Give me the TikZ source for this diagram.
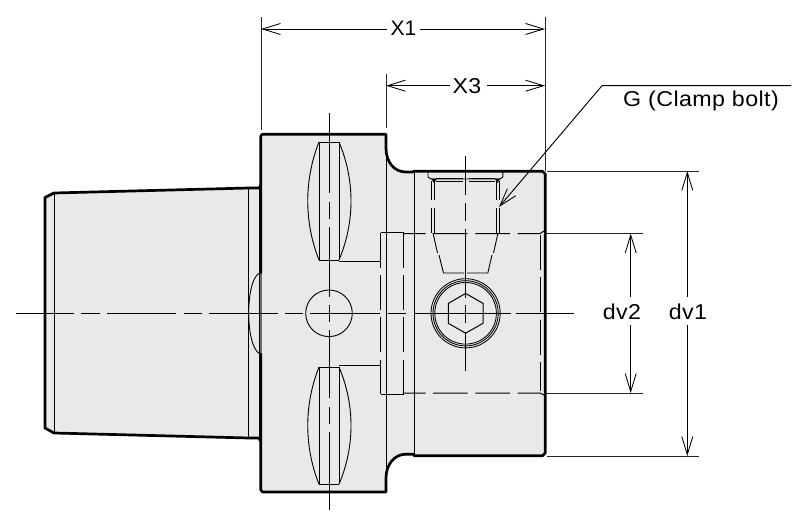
\documentclass[tikz,border=0pt]{standalone}
\usepackage{fontspec}
\setmainfont{Liberation Sans}
\usetikzlibrary{arrows.meta}
\definecolor{bodyfill}{RGB}{233,233,233}
\definecolor{greyedge}{RGB}{110,110,110}
\tikzset{
  outline/.style={line width=2.7pt,line join=round,line cap=round},
  thin line/.style={line width=1.0pt},
  fine line/.style={line width=0.9pt},
  hid35/.style={thin line,dash pattern=on 35pt off 7.3pt},
  halfend/.style={line width=0.95pt,-{Straight Barb[length=18pt,width=11pt,line width=0.85pt]}},
  extline/.style={line width=1.0pt,draw=black!85},
  lbl/.style={inner sep=0pt,font=\fontsize{21.5}{25}\selectfont\addfontfeature{FakeStretch=1.08,LetterSpace=2}},
  lblnarrow/.style={inner sep=0pt,font=\fontsize{21}{25}\selectfont},
}
\begin{document}
\begin{tikzpicture}[x=1pt,y=-1pt]
\useasboundingbox (0,0) rectangle (801,522);
% silhouette
\fill[bodyfill] (45,197.5) -- (54,193) -- (249,188) -- (261,188) -- (261,136) -- (263,134.3) -- (386,134.3) -- (386,148)
  .. controls (386,162) and (394,172) .. (406,172) -- (413,171.5) -- (542,171.5) -- (545,174) -- (545,453) -- (542,456) -- (414,456) -- (414,454.5) -- (406,454.5)
  .. controls (394,454.5) and (386,465) .. (386,478) -- (386,492) -- (263,492) -- (261,490) -- (261,438) -- (249,438) -- (54,433) -- (45,428) -- cycle;
% thin body lines
\draw[thin line] (54,193) -- (54,433);
\draw[thin line] (248.7,188) -- (248.7,438);
\draw[thin line] (386,134) -- (386,492);
\draw[thin line] (414.7,172) -- (414.7,456);
\draw[fine line] (260,272.7) .. controls (252,276) and (248.7,296) .. (248.7,313) .. controls (248.7,330) and (252,350) .. (260,354);
\draw[line width=2.6pt,draw=greyedge] (260.8,188) -- (260.8,438);
\draw[line width=0.9pt] (259.6,188) -- (259.6,438);
% outline
\draw[outline] (45,197.5) -- (54,193) -- (249,188) -- (259,188) -- (260.5,186);
\draw[outline] (45,197.5) -- (45,428) -- (54,433) -- (249,438) -- (259,438) -- (260.5,441);
\draw[outline] (260.8,273) -- (260.8,136) -- (262.5,134.3) -- (386,134.3) -- (386,148)
  .. controls (386,162) and (394,172) .. (406,172) -- (413,172);
\draw[outline] (413.5,171.2) -- (542.5,171.2) -- (545.2,174) -- (545.2,453) -- (542.5,455.8) -- (414,455.8);
\draw[outline] (414,454.2) -- (406,454.2) .. controls (394,454.2) and (386,465) .. (386,478) -- (386,492) -- (262.5,492) -- (260.8,490) -- (260.8,354);
% lens-shaped flats
\foreach \t/\b in {142/260,367/484.3}{
  \draw[fine line] (319,\t) -- (339,\t) (319,\b) -- (339,\b);
  \draw[thin line] (319,\t) -- (319,\b) (339,\t) -- (339,\b);
  \draw[fine line] (319,\t) .. controls (304,{\t+38}) and (304,{\b-38}) .. (319,\b);
  \draw[fine line] (339,\t) .. controls (355,{\t+38}) and (355,{\b-38}) .. (339,\b);
}
% cross bore
\draw[fine line] (329,313.3) circle[radius=23.3];
% key slot
\draw[thin line] (339,261) -- (380.5,261);
\draw[thin line] (339,365) -- (380.5,365);
\draw[thin line] (380.5,232.7) -- (403.5,232.7);
\draw[thin line] (380.5,394) -- (403.5,394);
\draw[hid35] (380.5,232.7) -- (380.5,394);
\draw[hid35] (403.5,232.7) -- (403.5,394);
\draw[hid35] (540,235) -- (540,391);
\draw[thin line,dash pattern=on 34.5pt off 7.7pt,dash phase=12.5pt] (403.5,233.5) -- (540,233.5) -- (544,231);
\draw[thin line,dash pattern=on 34.5pt off 7.7pt,dash phase=12.5pt] (403.5,393) -- (540,393) -- (544,395);
% clamp bolt hole
\draw[fine line] (428,172) -- (428,177) -- (431,179) -- (500,179) -- (502.8,177) -- (502.8,172);
\draw[thin line] (436,181) -- (463,181) (469,181) -- (495,181);
\draw[thin line] (436,178.6) -- (463,178.6) (469,178.6) -- (495,178.6);
\fill (431,178.5) -- (437,178.5) -- (434,183) -- cycle;
\fill (494.5,178.5) -- (500.5,178.5) -- (497.5,183) -- cycle;
\foreach \x in {431.7,434.3,496.7,499.3}{
  \draw[fine line] (\x,181) -- (\x,200) (\x,208) -- (\x,233);
}
\draw[fine line] (433,233) -- (437.5,253) (439,255) -- (443.5,273) -- (464,273) (467,273) -- (487.8,273) -- (492,255) (493.5,253) -- (498,233);
% socket head
\foreach \r in {34.6,32.6,30.8}{\draw[line width=0.85pt] (465.6,313.3) circle[radius=\r];}
\draw[line width=1pt] (465.6,293.4) -- (483,303.4) -- (483,323.3) -- (465.6,333.2) -- (448.3,323.3) -- (448.3,303.4) -- cycle;
% centre lines
\foreach \a/\b in {16/74,81/100,107/176,184/202,209/278,285/303,310/380,388/406,415/511,516/574}{
  \draw[thin line] (\a,313.3) -- (\b,313.3);}
\foreach \a/\b in {113/193,202/219,227/297,305/322,330/398,407/424,432/510}{
  \draw[thin line] (329,\a) -- (329,\b);}
\foreach \a/\b in {156/195,203/221,229/298,305/323,332/370.7}{
  \draw[thin line] (465.6,\a) -- (465.6,\b);}
% extension lines
\coordinate (e1a) at (261,17);  \coordinate (e1b) at (261,130);
\coordinate (e2a) at (545,17);  \coordinate (e2b) at (545,171);
\coordinate (e3a) at (386,74);  \coordinate (e3b) at (386,128);
\draw[extline] (e1a) -- (e1b);
\draw[extline] (e2a) -- (e2b);
\draw[extline] (e3a) -- (e3b);
\coordinate (h1a) at (547,171); \coordinate (h1b) at (699,171);
\coordinate (h2a) at (547,456); \coordinate (h2b) at (699,456);
\coordinate (h3a) at (546,233.5); \coordinate (h3b) at (642.5,233.5);
\coordinate (h4a) at (546,393); \coordinate (h4b) at (642.5,393);
\draw[extline] (h1a) -- (h1b);
\draw[extline] (h2a) -- (h2b);
\draw[extline] (h3a) -- (h3b);
\draw[extline] (h4a) -- (h4b);
% dimensions
\node[lblnarrow] (X1) at (403.5,28) {X1};
\node[lbl] (X3) at (467,86) {X3};
\node[lbl] (dv2) at (622,312) {dv2};
\node[lbl] (dv1) at (688,312) {dv1};
\node[lbl,anchor=west] (G) at (623,101) {G (Clamp bolt)};
\coordinate (x1l) at (261,29);  \coordinate (x1m) at (387,29); \coordinate (x1n) at (420,29); \coordinate (x1r) at (545,29);
\draw[halfend] (x1m) -- (x1l);
\draw[halfend] (x1n) -- (x1r);
\coordinate (x3l) at (386,85.7); \coordinate (x3m) at (450,85.7); \coordinate (x3n) at (487,85.7); \coordinate (x3r) at (545,85.7);
\draw[halfend] (x3m) -- (x3l);
\draw[halfend] (x3n) -- (x3r);
\coordinate (d2t) at (630.7,233.5); \coordinate (d2m) at (630.7,297); \coordinate (d2n) at (630.7,325); \coordinate (d2b) at (630.7,393);
\draw[halfend] (d2m) -- (d2t);
\draw[halfend] (d2n) -- (d2b);
\coordinate (d1t) at (687.3,171); \coordinate (d1m) at (687.3,297); \coordinate (d1n) at (687.3,325); \coordinate (d1b) at (687.3,456);
\draw[halfend] (d1m) -- (d1t);
\draw[halfend] (d1n) -- (d1b);
% leader
\coordinate (ld0) at (791,85.7); \coordinate (ld1) at (602,85.7); \coordinate (ld2) at (499,207);
\draw[halfend] (ld0) -- (ld1) -- (ld2);
\end{tikzpicture}
\end{document}
